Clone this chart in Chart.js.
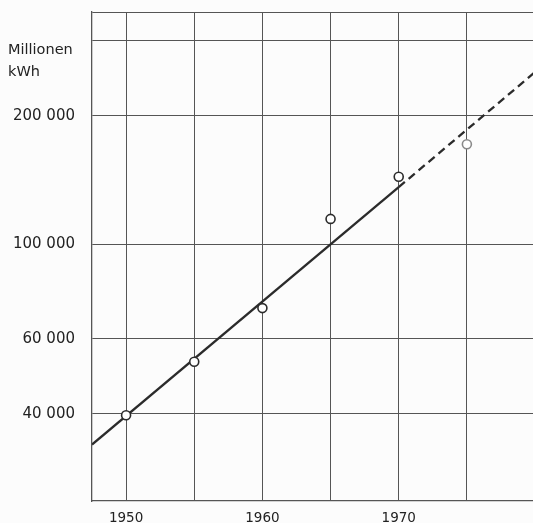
<!DOCTYPE html>
<html>
<head>
<meta charset="utf-8">
<script src="https://cdn.jsdelivr.net/npm/chart.js@4.4.1/dist/chart.umd.min.js"></script>
<style>
  html, body { margin: 0; padding: 0; background: #fcfcfc; overflow: hidden; }
  canvas { display: block; }
</style>
</head>
<body>
<canvas id="c" width="533" height="523"></canvas>
<script>
// Observed electricity consumption (Millionen kWh)
const years = [1950, 1955, 1960, 1965, 1970, 1975];
const consumption = [39700, 53000, 70800, 114600, 143900, 171400];
// Trend line: solid part and dashed extrapolation
const trendSolidYears = [1947.5, 1970];
const trendSolidValues = [33900, 136000];
const trendDashYears = [1970, 1980];
const trendDashValues = [136000, 253000];
// Axis ticks
const xGridYears = [1950, 1955, 1960, 1965, 1970, 1975];
const xLabelYears = [1950, 1960, 1970];
const yGridValues = [40000, 60000, 100000, 200000, 300000, 350000];
const yLabelValues = [40000, 60000, 100000, 200000];
const unitLines = ['Millionen', 'kWh'];

const ink = '#222222';
const gridColor = '#555555';
const fontFamily = '"DejaVu Sans", "Liberation Sans", sans-serif';

function fmt(v) {
  return String(v).replace(/\B(?=(\d{3})+(?!\d))/g, ' ');
}

const unitLabel = {
  id: 'unitLabel',
  afterDraw(chart) {
    const ctx = chart.ctx;
    ctx.save();
    ctx.fillStyle = ink;
    ctx.font = '14.5px ' + fontFamily;
    ctx.textAlign = 'left';
    ctx.textBaseline = 'alphabetic';
    ctx.fillText(unitLines[0], 8, 54);
    ctx.fillText(unitLines[1], 8, 76);
    ctx.restore();
  }
};

new Chart(document.getElementById('c'), {
  type: 'line',
  data: {
    datasets: [
      {
        label: 'obs',
        type: 'line',
        showLine: false,
        data: years.map((y, i) => ({ x: y, y: consumption[i] })),
        pointRadius: 4.5,
        pointHoverRadius: 4.5,
        pointBorderWidth: 1.6,
        pointBackgroundColor: '#ffffff',
        pointBorderColor: years.map(y => y === 1975 ? '#8a8a8a' : '#2b2b2b'),
        order: 0
      },
      {
        label: 'trend',
        data: trendSolidYears.map((y, i) => ({ x: y, y: trendSolidValues[i] })),
        borderColor: '#2b2b2b',
        borderWidth: 2.3,
        pointRadius: 0,
        order: 1
      },
      {
        label: 'trend-dash',
        data: trendDashYears.map((y, i) => ({ x: y, y: trendDashValues[i] })),
        borderColor: '#2b2b2b',
        borderWidth: 2.3,
        borderDash: [8, 5],
        pointRadius: 0,
        order: 1
      }
    ]
  },
  options: {
    responsive: false,
    animation: false,
    devicePixelRatio: 1,
    layout: { autoPadding: false, padding: { top: 12, right: 0, left: 0, bottom: 0 } },
    plugins: { legend: { display: false }, tooltip: { enabled: false } },
    scales: {
      x: {
        type: 'linear',
        min: 1947.5,
        max: 1979.85,
        afterBuildTicks(scale) { scale.ticks = xGridYears.map(v => ({ value: v })); },
        afterFit(scale) {
          scale.height = 22;
          scale.paddingLeft = 0; scale.paddingRight = 0;
          scale.paddingTop = 0; scale.paddingBottom = 0;
        },
        grid: { color: gridColor, lineWidth: 1, drawTicks: false },
        border: { color: gridColor, width: 1.3 },
        ticks: {
          padding: 9,
          color: ink,
          font: { family: fontFamily, size: 13.5 },
          maxRotation: 0,
          autoSkip: false,
          callback: v => xLabelYears.includes(v) ? String(v) : ''
        }
      },
      y: {
        type: 'logarithmic',
        min: 25000,
        max: 350000,
        afterBuildTicks(scale) { scale.ticks = yGridValues.map(v => ({ value: v })); },
        afterFit(scale) {
          scale.width = 92;
          scale.paddingLeft = 0; scale.paddingRight = 0;
          scale.paddingTop = 0; scale.paddingBottom = 0;
        },
        grid: { color: gridColor, lineWidth: 1, drawTicks: false },
        border: { color: gridColor, width: 1.3 },
        ticks: {
          padding: 17,
          color: ink,
          font: { family: fontFamily, size: 15 },
          autoSkip: false,
          callback: v => yLabelValues.includes(v) ? fmt(v) : ''
        }
      }
    }
  },
  plugins: [unitLabel]
});
</script>
</body>
</html>
